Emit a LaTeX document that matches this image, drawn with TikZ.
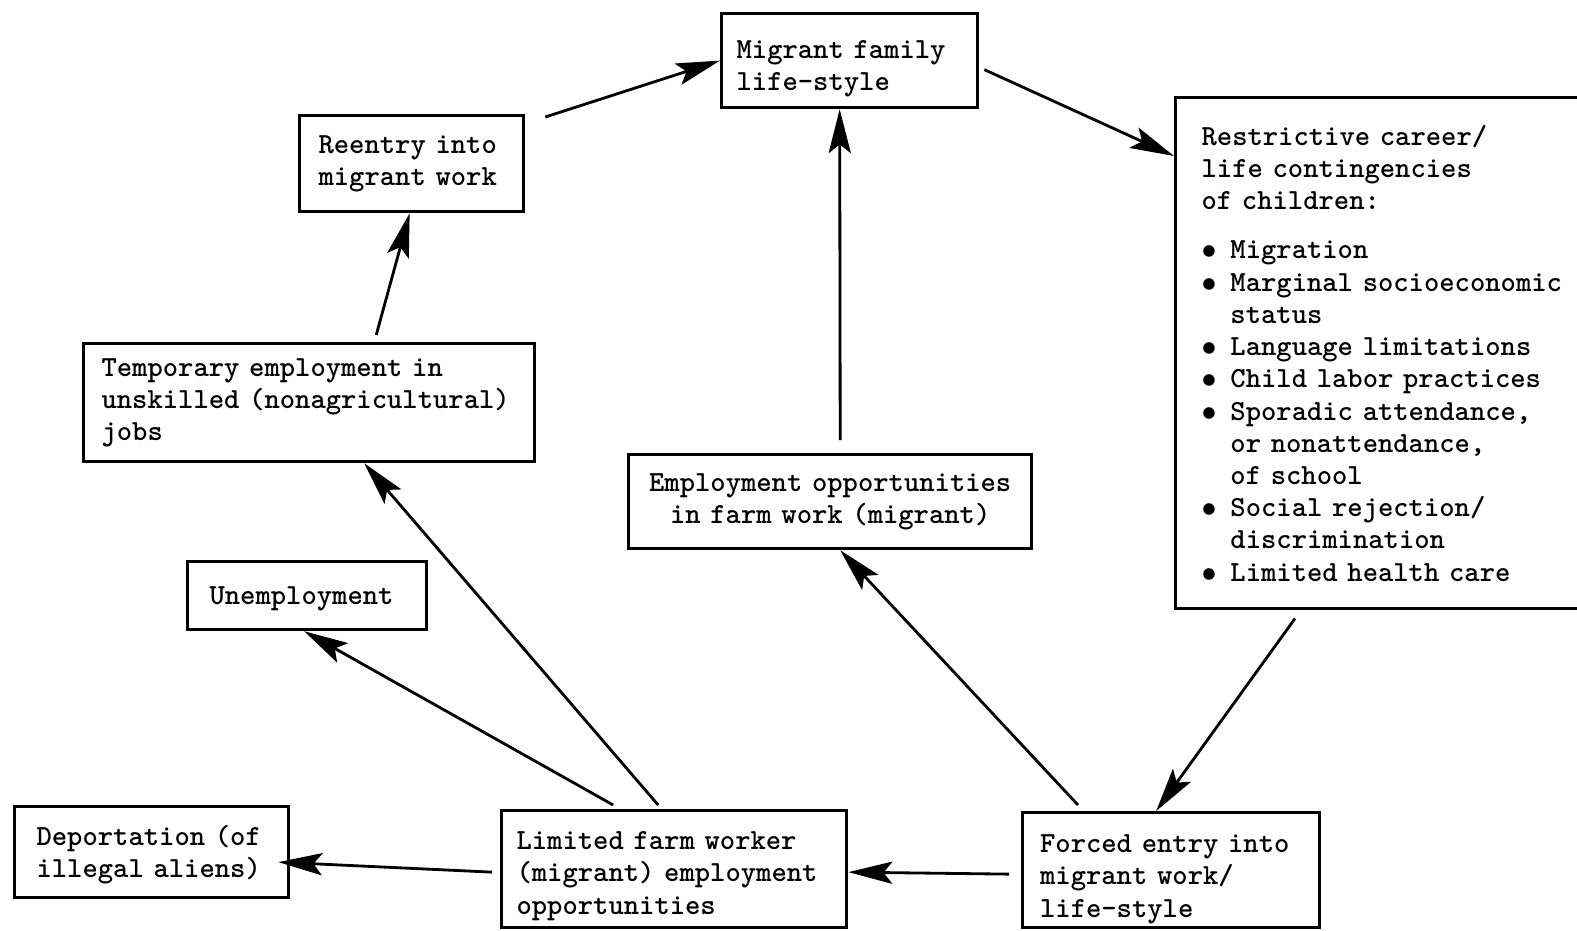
\documentclass[tikz,border=0pt]{standalone}
\usepackage{tikz}
\usetikzlibrary{arrows.meta}
\tikzset{
  box/.style={draw, line width=0.9pt, anchor=north west, inner ysep=0pt, align=left,
    font=\fontsize{8.3}{9.16}\selectfont\ttfamily\bfseries},
  link/.style={-{Stealth[length=12.5pt, width=6.3pt, inset=2.5pt]}, line width=0.8pt}
}
\newcommand{\itm}{\makebox[8.2pt][l]{$\bullet$}}
\newcommand{\hng}{\hspace*{8.2pt}}

\begin{document}
\begin{tikzpicture}[x=0.01cm, y=-0.01cm]
\clip (0,0) rectangle (1577,930);
\fill[white] (0,0) rectangle (1577,930);

\node[box, text width=2.26cm, inner xsep=0.15cm, minimum height=0.94cm, text height=9.6pt] (migrant) at (720,12) {Migrant family\\life-style};
\node[box, text width=1.86cm, inner xsep=0.19cm, minimum height=0.96cm] (reentry) at (298,114) {Reentry into\\migrant work};
\node[box, text width=3.94cm, inner xsep=0.26cm, minimum height=5.11cm] (restrict) at (1174,96) {Restrictive career/\\life contingencies\\of children:\\[4.8pt]
\itm Migration\\
\itm Marginal socioeconomic\\
\hng status\\
\itm Language limitations\\
\itm Child labor practices\\
\itm Sporadic attendance,\\
\hng or nonattendance,\\
\hng of school\\
\itm Social rejection/\\
\hng discrimination\\
\itm Limited health care};
\node[box, text width=4.15cm, inner xsep=0.18cm, minimum height=1.18cm] (temp) at (82,342) {Temporary employment in\\unskilled (nonagricultural)\\jobs};
\node[box, align=center, text width=3.71cm, inner xsep=0.16cm, minimum height=0.94cm] (emp) at (627,453) {Employment opportunities\\in farm work (migrant)};
\node[box, text width=1.95cm, inner xsep=0.22cm, minimum height=0.68cm, text height=6.8pt] (unemp) at (186,560) {Unemployment};
\node[box, text width=2.30cm, inner xsep=0.22cm, minimum height=0.91cm, text height=7.4pt] (deport) at (13,805) {Deportation (of\\illegal aliens)};
\node[box, text width=3.15cm, inner xsep=0.15cm, minimum height=1.17cm, text height=9pt] (limited) at (500,809) {Limited farm worker\\(migrant) employment\\opportunities};
\node[box, text width=2.62cm, inner xsep=0.175cm, minimum height=1.15cm, text height=10.2pt] (forced) at (1021,811) {Forced entry into\\migrant work/\\life-style};

\draw[link] ([shift={(20,3)}]reentry.north east) -- (migrant.west);
\draw[link] ([shift={(5,9)}]migrant.east) -- ([shift={(0,60)}]restrict.north west);
\draw[link] ([shift={(10,-13)}]emp.north) -- ([shift={(-10,0)}]migrant.south);
\draw[link] ([shift={(67,-7)}]temp.north) -- ([shift={(-2,0)}]reentry.south);
\draw[link] ([shift={(121,8)}]restrict.south west) -- ([shift={(-15,0)}]forced.north);
\draw[link] ([shift={(57,-6)}]forced.north west) -- ([shift={(10,0)}]emp.south);
\draw[link] ([shift={(-12,4)}]forced.west) -- ([shift={(0,3)}]limited.east);
\draw[link] ([shift={(-61,-4)}]limited.north) -- ([shift={(-3,0)}]unemp.south);
\draw[link] ([shift={(-16,-4)}]limited.north) -- ([shift={(55,0)}]temp.south);
\draw[link] ([shift={(-8,3)}]limited.west) -- ([shift={(-12,10)}]deport.east);
\end{tikzpicture}
\end{document}
